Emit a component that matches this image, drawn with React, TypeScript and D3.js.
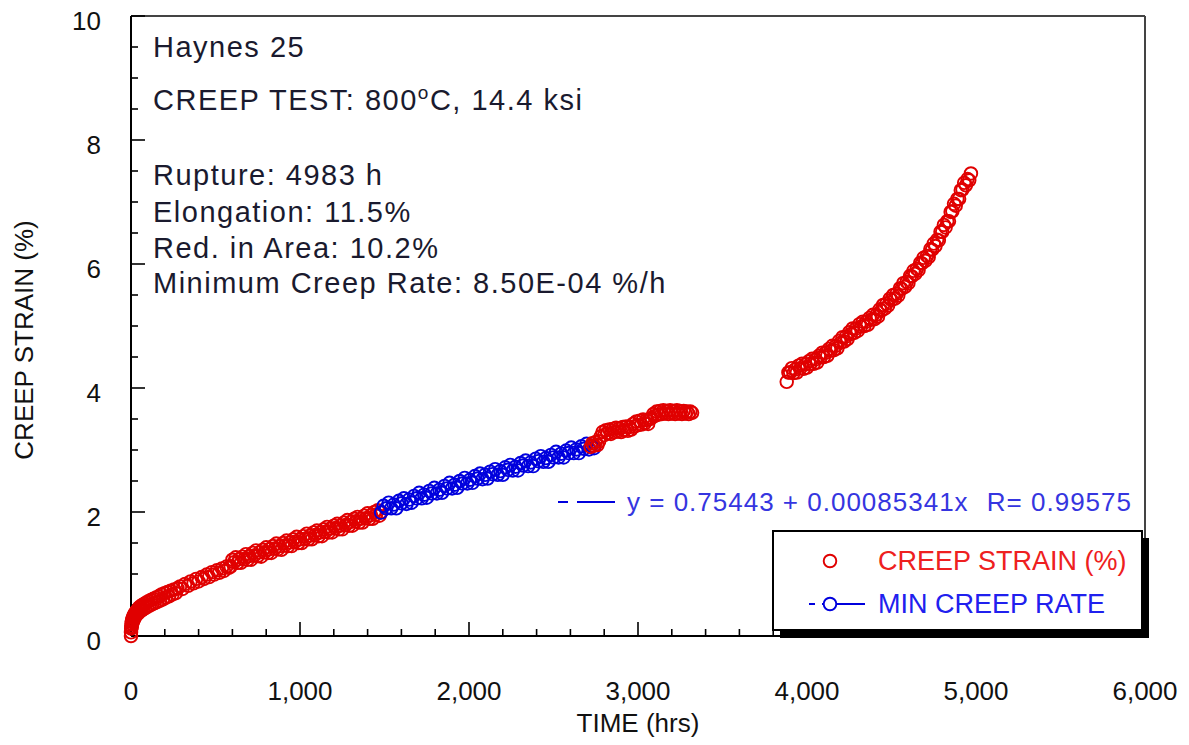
import React from "react";
import * as d3 from "d3";

// ---- data ----
// Creep strain, primary + early secondary part (red)
const strainTime1 = [0, 0, 1, 2, 3, 4, 5, 6, 8, 10, 12, 14, 16, 18, 20, 23, 26, 29, 32, 36, 40, 44, 48, 52, 57, 62, 67, 72, 78, 84, 90, 96,
  103, 110, 117, 124, 132, 140, 148, 156, 164, 172, 180, 189, 198, 207, 216, 225, 235, 245, 255, 265, 275,
  290, 305, 320, 338, 352, 370, 385, 400, 418, 432, 448, 462, 478, 492, 508, 522, 538, 550, 565, 578,
  590, 600, 610, 620, 630, 640, 650, 660, 670, 680, 690, 700, 710, 720, 730, 740, 750, 760, 770, 780, 790, 800,
  810, 820, 830, 840, 850, 860, 870, 880, 890, 900, 910, 920, 930, 940, 950, 960, 970, 980, 990, 1000,
  1010, 1020, 1030, 1040, 1050, 1060, 1070, 1080, 1090, 1100, 1110, 1120, 1130, 1140, 1150, 1160, 1170, 1180, 1190, 1200,
  1210, 1220, 1230, 1240, 1250, 1260, 1270, 1280, 1290, 1300, 1310, 1320, 1330, 1340, 1350, 1360, 1370, 1380, 1390, 1400,
  1410, 1420, 1430, 1440, 1450, 1460, 1470, 1480];
const strainValue1 = [0.00, 0.06, 0.12, 0.16, 0.20, 0.14, 0.24, 0.19, 0.27, 0.22, 0.30, 0.25, 0.33, 0.28, 0.35, 0.30, 0.38, 0.33, 0.40, 0.35, 0.43, 0.37, 0.46, 0.40, 0.48, 0.41, 0.50, 0.43, 0.52, 0.45, 0.54, 0.47,
  0.56, 0.49, 0.58, 0.51, 0.60, 0.53, 0.62, 0.55, 0.64, 0.57, 0.67, 0.59, 0.69, 0.62, 0.71, 0.64, 0.73, 0.67, 0.75, 0.69, 0.77,
  0.80, 0.76, 0.84, 0.81, 0.88, 0.85, 0.92, 0.88, 0.95, 0.92, 0.99, 0.95, 1.03, 0.99, 1.06, 1.02, 1.09, 1.05, 1.12, 1.10,
  1.12, 1.23, 1.19, 1.27, 1.18, 1.24, 1.18, 1.28, 1.24, 1.32, 1.23, 1.29, 1.23, 1.34, 1.30, 1.38, 1.29, 1.35, 1.28, 1.39, 1.35, 1.43,
  1.34, 1.40, 1.34, 1.45, 1.41, 1.49, 1.40, 1.45, 1.39, 1.50, 1.46, 1.54, 1.45, 1.51, 1.45, 1.56, 1.52, 1.60, 1.50, 1.56,
  1.50, 1.61, 1.57, 1.65, 1.56, 1.62, 1.56, 1.67, 1.63, 1.70, 1.61, 1.67, 1.61, 1.72, 1.68, 1.76, 1.67, 1.73, 1.67, 1.78,
  1.74, 1.81, 1.72, 1.78, 1.72, 1.83, 1.79, 1.87, 1.78, 1.84, 1.78, 1.89, 1.85, 1.92, 1.83, 1.89, 1.83, 1.94, 1.90, 1.98,
  1.89, 1.95, 1.89, 2.00, 1.96, 2.03, 1.94, 2.00];

// Points used for the minimum creep rate fit (blue)
const rateTime = [1480, 1495, 1510, 1525, 1540, 1555, 1570, 1585, 1600, 1615, 1630, 1645, 1660, 1675, 1690, 1705, 1720, 1735, 1750, 1765,
  1780, 1795, 1810, 1825, 1840, 1855, 1870, 1885, 1900, 1915, 1930, 1945, 1960, 1975, 1990, 2005, 2020, 2035, 2050, 2065,
  2080, 2095, 2110, 2125, 2140, 2155, 2170, 2185, 2200, 2215, 2230, 2245, 2260, 2275, 2290, 2305, 2320, 2335, 2350, 2365,
  2380, 2395, 2410, 2425, 2440, 2455, 2470, 2485, 2500, 2515, 2530, 2545, 2560, 2575, 2590, 2605, 2620, 2635, 2650, 2665,
  2680, 2695, 2710, 2725, 2740];
const rateValue = [1.99, 2.10, 2.06, 2.15, 2.06, 2.12, 2.06, 2.18, 2.14, 2.22, 2.13, 2.20, 2.15, 2.26, 2.22, 2.31, 2.22, 2.28, 2.23, 2.34,
  2.30, 2.39, 2.30, 2.36, 2.31, 2.42, 2.38, 2.47, 2.38, 2.44, 2.39, 2.50, 2.46, 2.55, 2.46, 2.52, 2.47, 2.58, 2.54, 2.62,
  2.53, 2.60, 2.54, 2.65, 2.61, 2.69, 2.60, 2.66, 2.60, 2.72, 2.68, 2.76, 2.67, 2.73, 2.67, 2.79, 2.75, 2.83, 2.74, 2.80,
  2.74, 2.86, 2.82, 2.90, 2.81, 2.87, 2.81, 2.92, 2.88, 2.97, 2.88, 2.94, 2.88, 2.99, 2.95, 3.04, 2.95, 3.01, 2.95, 3.06,
  3.02, 3.10, 3.01, 3.07, 3.03];

// Creep strain after the fit window, before the data gap (red)
const strainTime2 = [2720, 2730, 2740, 2750, 2760, 2770, 2780, 2790, 2800, 2810, 2820, 2830, 2840, 2850, 2860, 2870, 2880, 2890, 2900, 2910,
  2920, 2930, 2940, 2950, 2960, 2970, 2980, 2990, 3000, 3010, 3020, 3030, 3040, 3050, 3060, 3070, 3080, 3090, 3100, 3110,
  3120, 3130, 3140, 3150, 3160, 3170, 3180, 3190, 3200, 3210, 3220, 3230, 3240, 3250, 3260, 3270, 3280, 3290, 3300, 3310, 3320];
const strainValue2 = [3.05, 3.11, 3.07, 3.13, 3.08, 3.14, 3.22, 3.29, 3.24, 3.32, 3.27, 3.33, 3.26, 3.34, 3.29, 3.36, 3.30, 3.35, 3.29, 3.37,
  3.32, 3.38, 3.31, 3.37, 3.33, 3.42, 3.38, 3.46, 3.40, 3.47, 3.41, 3.49, 3.43, 3.48, 3.42, 3.50, 3.52, 3.58, 3.55, 3.62,
  3.57, 3.63, 3.58, 3.64, 3.59, 3.63, 3.58, 3.64, 3.59, 3.63, 3.58, 3.64, 3.59, 3.63, 3.58, 3.63, 3.59, 3.62, 3.58, 3.62, 3.60];

// Creep strain after the data gap, up to rupture (red)
const strainTime3 = [3880, 3890, 3900, 3910, 3920, 3930, 3940, 3950, 3960, 3970, 3980, 3990, 4000, 4010, 4020, 4030, 4040, 4050, 4060, 4070,
  4080, 4090, 4100, 4110, 4120, 4130, 4140, 4150, 4160, 4170, 4180, 4190, 4200, 4210, 4220, 4230, 4240, 4250, 4260, 4270,
  4280, 4290, 4300, 4310, 4320, 4330, 4340, 4350, 4360, 4370, 4380, 4390, 4400, 4410, 4420, 4430, 4440, 4450, 4460, 4470,
  4480, 4490, 4500, 4510, 4520, 4530, 4540, 4550, 4560, 4570, 4580, 4590, 4600, 4610, 4620, 4630, 4640, 4650, 4660, 4670,
  4680, 4690, 4700, 4710, 4720, 4730, 4740, 4750, 4760, 4770, 4780, 4790, 4800, 4810, 4820, 4830, 4840, 4850, 4860, 4870,
  4880, 4890, 4900, 4910, 4920, 4930, 4940, 4950, 4960, 4970];
const strainValue3 = [4.10, 4.25, 4.25, 4.32, 4.24, 4.30, 4.25, 4.36, 4.32, 4.39, 4.31, 4.38, 4.33, 4.43, 4.39, 4.47, 4.39, 4.46, 4.41, 4.52,
  4.49, 4.57, 4.50, 4.57, 4.52, 4.63, 4.60, 4.68, 4.61, 4.68, 4.64, 4.76, 4.73, 4.82, 4.75, 4.83, 4.79, 4.90, 4.87, 4.96,
  4.89, 4.96, 4.92, 5.03, 4.99, 5.07, 5.00, 5.07, 5.02, 5.13, 5.10, 5.18, 5.11, 5.18, 5.15, 5.27, 5.25, 5.34, 5.28, 5.36,
  5.33, 5.44, 5.42, 5.50, 5.44, 5.52, 5.49, 5.61, 5.60, 5.69, 5.63, 5.71, 5.69, 5.81, 5.80, 5.89, 5.84, 5.92, 5.90, 6.02,
  6.01, 6.10, 6.05, 6.13, 6.11, 6.24, 6.23, 6.33, 6.29, 6.39, 6.38, 6.52, 6.52, 6.63, 6.59, 6.69, 6.69, 6.84, 6.85, 6.97,
  6.94, 7.05, 7.05, 7.19, 7.20, 7.31, 7.27, 7.37, 7.35, 7.46];

const xTicks = [0, 1000, 2000, 3000, 4000, 5000, 6000];
const yTicks = [0, 2, 4, 6, 8, 10];

const infoLines = ["Haynes 25", "Rupture: 4983 h", "Elongation: 11.5%", "Red. in Area: 10.2%", "Minimum Creep Rate: 8.50E-04 %/h"];
const fitLabel = "y = 0.75443 + 0.00085341x";
const fitR = "R= 0.99575";
const legendLabels = ["CREEP STRAIN (%)", "MIN CREEP RATE"];

const RED = "#e00000";
const BLUE = "#0000dd";
const FONT = "'Liberation Sans', Arial, sans-serif";

export default function App() {
  const x = d3.scaleLinear().domain([0, 6000]).range([131, 1145]);
  const y = d3.scaleLinear().domain([0, 10]).range([636, 16]);
  const xMinor = d3.range(0, 6001, 200);
  const yMinor = d3.range(0, 10.01, 0.5);
  const r = 6.3;

  const circles = (ts: number[], vs: number[], color: string, key: string) =>
    ts.map((t, i) => (
      <circle key={key + i} cx={x(t)} cy={y(vs[i])} r={r} fill="none" stroke={color} strokeWidth={1.9} />
    ));

  const infoY = [57, 185, 222, 258, 293];
  const annStyle = { fontFamily: FONT, fontSize: 29, letterSpacing: "1.5px", fill: "#1a1a2e" } as const;

  return (
    <svg width={1189} height={745} style={{ position: "absolute", left: 0, top: 0, background: "#fff" }}>
      <rect x={0} y={0} width={1189} height={745} fill="#fff" />
      {/* frame */}
      <line x1={131} x2={1145} y1={16} y2={16} stroke="#444" strokeWidth={2} />
      <line x1={1145} x2={1145} y1={16} y2={636} stroke="#444" strokeWidth={2} />
      <line x1={131} x2={1145} y1={636} y2={636} stroke="#000" strokeWidth={2} />
      <line x1={131} x2={131} y1={16} y2={636} stroke="#000" strokeWidth={2} />
      {/* ticks */}
      {xMinor.map((t) => (
        <line key={"xm" + t} x1={x(t)} x2={x(t)} y1={636} y2={t % 1000 === 0 ? 622 : 629} stroke="#000" strokeWidth={1.6} />
      ))}
      {yMinor.map((v) => (
        <line key={"ym" + v} x1={131} x2={v % 2 === 0 ? 145 : 138} y1={y(v)} y2={y(v)} stroke="#000" strokeWidth={1.6} />
      ))}
      {xTicks.map((t) => (
        <text key={"xt" + t} x={x(t)} y={700} textAnchor="middle" fontFamily={FONT} fontSize={26} fill="#111">
          {d3.format(",")(t)}
        </text>
      ))}
      {yTicks.map((v) => (
        <text key={"yt" + v} x={101} y={y(v) + 14} textAnchor="end" fontFamily={FONT} fontSize={26} fill="#111">
          {v}
        </text>
      ))}
      <text x={638} y={732} textAnchor="middle" fontFamily={FONT} fontSize={26} fill="#111">TIME (hrs)</text>
      <text transform="translate(33,340) rotate(-90)" textAnchor="middle" fontFamily={FONT} fontSize={26} fill="#111">CREEP STRAIN (%)</text>

      {/* annotations */}
      <text x={153} y={infoY[0]} {...annStyle}>{infoLines[0]}</text>
      <text x={153} y={110} {...annStyle}>
        CREEP TEST: 800<tspan dy={-11} fontSize={19}>o</tspan><tspan dy={11}>C, 14.4 ksi</tspan>
      </text>
      {infoLines.slice(1).map((s, i) => (
        <text key={"info" + i} x={153} y={infoY[i + 1]} {...annStyle}>{s}</text>
      ))}

      {/* data */}
      {circles(strainTime1, strainValue1, RED, "a")}
      {circles(rateTime, rateValue, BLUE, "b")}
      {circles(strainTime2, strainValue2, RED, "c")}
      {circles(strainTime3, strainValue3, RED, "d")}

      {/* fit label */}
      <line x1={558} x2={568} y1={502} y2={502} stroke={BLUE} strokeWidth={2} />
      <line x1={577} x2={615} y1={502} y2={502} stroke={BLUE} strokeWidth={2} />
      <text x={627} y={511} fontFamily={FONT} fontSize={26} letterSpacing="1px" fill="#3535e0">{fitLabel}</text>
      <text x={1132} y={511} textAnchor="end" fontFamily={FONT} fontSize={26} letterSpacing="1px" fill="#3535e0">{fitR}</text>

      {/* legend */}
      <rect x={780} y={538} width={369} height={100} fill="#000" />
      <rect x={773} y={531} width={369} height={99} fill="#fff" stroke="#000" strokeWidth={2} />
      <circle cx={830} cy={561} r={r} fill="none" stroke={RED} strokeWidth={1.9} />
      <text x={878} y={570} fontFamily={FONT} fontSize={27} fill="#ee2020">{legendLabels[0]}</text>
      <line x1={809} x2={815} y1={604} y2={604} stroke={BLUE} strokeWidth={2} />
      <line x1={822} x2={865} y1={604} y2={604} stroke={BLUE} strokeWidth={2} />
      <circle cx={830} cy={604} r={r} fill="#fff" stroke={BLUE} strokeWidth={1.9} />
      <text x={878} y={613} fontFamily={FONT} fontSize={27} fill="#2020ee">{legendLabels[1]}</text>
    </svg>
  );
}
